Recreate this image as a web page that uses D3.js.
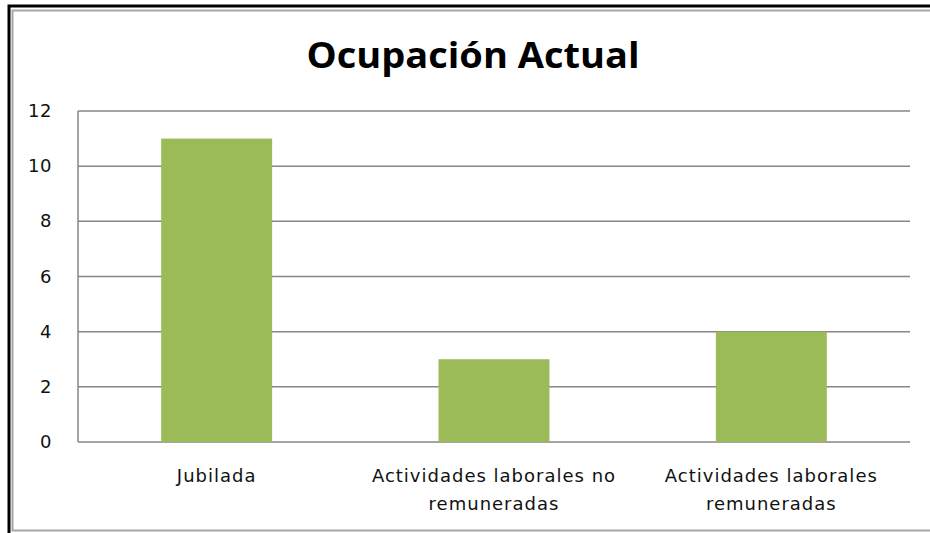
<!DOCTYPE html>
<html>
<head>
<meta charset="utf-8">
<script src="https://cdn.jsdelivr.net/npm/d3@7"></script>
<style>
  body { margin: 0; background: #fff; }
  svg { display: block; }
</style>
</head>
<body>
<script>
// chart values
var titulo = "Ocupación Actual";
var categorias = ["Jubilada", "Actividades laborales no remuneradas", "Actividades laborales remuneradas"];
var etiquetas = [["Jubilada"], ["Actividades laborales no", "remuneradas"], ["Actividades laborales", "remuneradas"]];
var valores = [11, 3, 4];
var ticks = [0, 2, 4, 6, 8, 10, 12];

var W = 930, H = 533;
var margin = {top: 111, right: 20, bottom: 91, left: 78};

var svg = d3.select("body").append("svg")
	.attr("width", W)
	.attr("height", H);

// frame: dark edge top/left, grey border inside (no right edge in the picture)
svg.append("path")
	.attr("d", "M930,10.5H12.5V530.5H930")
	.attr("fill", "none")
	.attr("stroke", "#a6a6a6")
	.attr("stroke-width", 2);
svg.append("path")
	.attr("d", "M9,533V6H930")
	.attr("fill", "none")
	.attr("stroke", "#000")
	.attr("stroke-width", 3);

svg.append("text")
	.attr("x", 473)
	.attr("y", 68)
	.attr("text-anchor", "middle")
	.attr("font-family", "'Open Sans', sans-serif")
	.attr("font-weight", 700)
	.attr("font-size", 36)
	.attr("textLength", 333)
	.attr("lengthAdjust", "spacingAndGlyphs")
	.attr("fill", "#000")
	.text(titulo);

var x = d3.scaleBand()
	.domain(categorias)
	.range([margin.left, W - margin.right])
	.paddingInner(0.6)
	.paddingOuter(0.3);

var y = d3.scaleLinear()
	.domain([0, 12])
	.range([H - margin.bottom, margin.top]);

var g = svg.append("g");

// gridlines
g.selectAll("line.grid")
	.data(ticks)
	.enter().append("line")
	.attr("class", "grid")
	.attr("x1", margin.left).attr("x2", W - margin.right)
	.attr("y1", function(d){ return y(d); })
	.attr("y2", function(d){ return y(d); })
	.attr("stroke", "#868686")
	.attr("stroke-width", 1.5);

g.append("line")
	.attr("x1", margin.left).attr("x2", margin.left)
	.attr("y1", y(12)).attr("y2", y(0))
	.attr("stroke", "#868686")
	.attr("stroke-width", 1.5);

// bars
g.selectAll("rect.bar")
	.data(valores)
	.enter().append("rect")
	.attr("class", "bar")
	.attr("x", function(d, i){ return x(categorias[i]); })
	.attr("width", x.bandwidth())
	.attr("y", function(d){ return y(d); })
	.attr("height", function(d){ return y(0) - y(d); })
	.attr("fill", "#9bbb59");

// y tick labels
g.selectAll("text.ytick")
	.data(ticks)
	.enter().append("text")
	.attr("class", "ytick")
	.attr("x", 52)
	.attr("y", function(d){ return y(d) + 6; })
	.attr("text-anchor", "end")
	.attr("font-family", "'DejaVu Sans', sans-serif")
	.attr("font-size", 18)
	.attr("letter-spacing", 0.5)
	.attr("fill", "#111")
	.text(function(d){ return d; });

// category labels
var cat = g.selectAll("text.xlab")
	.data(etiquetas)
	.enter().append("text")
	.attr("class", "xlab")
	.attr("text-anchor", "middle")
	.attr("font-family", "'DejaVu Sans', sans-serif")
	.attr("font-size", 18)
	.attr("letter-spacing", 1)
	.attr("fill", "#111");

cat.selectAll("tspan")
	.data(function(d, i){ return d.map(function(s){ return {s: s, i: i}; }); })
	.enter().append("tspan")
	.attr("x", function(d){ return x(categorias[d.i]) + x.bandwidth() / 2; })
	.attr("y", function(d, j){ return 482 + j * 28; })
	.text(function(d){ return d.s; });
</script>
</body>
</html>
